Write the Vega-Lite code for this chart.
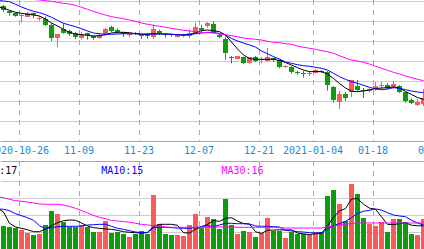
{
  "$schema": "https://vega.github.io/schema/vega-lite/v6.json",
  "width": 424,
  "height": 249,
  "autosize": "none",
  "padding": 0,
  "background": "white",
  "config": {"view": {"stroke": null}, "scale": {"continuousPadding": 0}},
  "datasets": {
    "k": [
      {"i":-1,"ma5":4.671,"ma10":4.7025,"ma30":4.726,"vma5":2.412,"vma10":2.353,"vma30":3.059},
      {"i":0,"open":4.675,"high":4.68,"low":4.645,"close":4.655,"vol":1.353,"ma5":4.665,"ma10":4.7,"ma30":4.723,"vma5":2.176,"vma10":2.335,"vma30":3.018},
      {"i":1,"open":4.65,"high":4.6525,"low":4.6275,"close":4.64,"vol":1.294,"ma5":4.6535,"ma10":4.6965,"ma30":4.72,"vma5":1.512,"vma10":2.253,"vma30":2.924},
      {"i":2,"open":4.64,"high":4.6425,"low":4.6215,"close":4.625,"vol":1.235,"ma5":4.6435,"ma10":4.6835,"ma30":4.717,"vma5":1.294,"vma10":2.076,"vma30":2.841},
      {"i":3,"open":4.625,"high":4.6385,"low":4.5915,"close":4.63,"vol":1.118,"ma5":4.6385,"ma10":4.67,"ma30":4.714,"vma5":1.218,"vma10":1.959,"vma30":2.806},
      {"i":4,"open":4.62,"high":4.6465,"low":4.62,"close":4.64,"vol":0.941,"ma5":4.6335,"ma10":4.6585,"ma30":4.711,"vma5":1.135,"vma10":1.841,"vma30":2.765},
      {"i":5,"open":4.64,"high":4.6425,"low":4.6135,"close":4.63,"vol":0.824,"ma5":4.63,"ma10":4.6485,"ma30":4.708,"vma5":1.018,"vma10":1.688,"vma30":2.706},
      {"i":6,"open":4.61,"high":4.625,"low":4.6015,"close":4.615,"vol":0.882,"ma5":4.625,"ma10":4.6415,"ma30":4.705,"vma5":1.018,"vma10":1.371,"vma30":2.647},
      {"i":7,"open":4.61,"high":4.6215,"low":4.575,"close":4.58,"vol":1.412,"ma5":4.61,"ma10":4.6315,"ma30":4.7015,"vma5":1.176,"vma10":1.194,"vma30":2.635},
      {"i":8,"open":4.58,"high":4.5885,"low":4.5,"close":4.515,"vol":2.235,"ma5":4.59,"ma10":4.6185,"ma30":4.6985,"vma5":1.371,"vma10":1.253,"vma30":2.629},
      {"i":9,"open":4.515,"high":4.535,"low":4.47,"close":4.535,"vol":2.059,"ma5":4.575,"ma10":4.6035,"ma30":4.6935,"vma5":1.547,"vma10":1.312,"vma30":2.629},
      {"i":10,"open":4.56,"high":4.5885,"low":4.5365,"close":4.54,"vol":1.588,"ma5":4.5585,"ma10":4.5885,"ma30":4.6885,"vma5":1.665,"vma10":1.335,"vma30":2.588},
      {"i":11,"open":4.55,"high":4.5565,"low":4.525,"close":4.535,"vol":1.294,"ma5":4.5435,"ma10":4.58,"ma30":4.685,"vma5":1.706,"vma10":1.335,"vma30":2.5},
      {"i":12,"open":4.54,"high":4.5435,"low":4.5085,"close":4.52,"vol":1.294,"ma5":4.535,"ma10":4.5715,"ma30":4.6785,"vma5":1.688,"vma10":1.335,"vma30":2.394},
      {"i":13,"open":4.515,"high":4.545,"low":4.5085,"close":4.535,"vol":1.412,"ma5":4.5315,"ma10":4.5615,"ma30":4.6685,"vma5":1.529,"vma10":1.353,"vma30":2.265},
      {"i":14,"open":4.54,"high":4.5415,"low":4.5065,"close":4.53,"vol":1.294,"ma5":4.5285,"ma10":4.55,"ma30":4.6585,"vma5":1.353,"vma10":1.412,"vma30":2.118},
      {"i":15,"open":4.525,"high":4.5275,"low":4.5065,"close":4.515,"vol":1.0,"ma5":4.525,"ma10":4.54,"ma30":4.6485,"vma5":1.253,"vma10":1.429,"vma30":1.971},
      {"i":16,"open":4.515,"high":4.5385,"low":4.51,"close":4.53,"vol":1.0,"ma5":4.5265,"ma10":4.5365,"ma30":4.6385,"vma5":1.218,"vma10":1.453,"vma30":1.865},
      {"i":17,"open":4.535,"high":4.5665,"low":4.5265,"close":4.56,"vol":1.647,"ma5":4.5315,"ma10":4.5335,"ma30":4.63,"vma5":1.176,"vma10":1.453,"vma30":1.782},
      {"i":18,"open":4.57,"high":4.5765,"low":4.5435,"close":4.55,"vol":0.941,"ma5":4.54,"ma10":4.5335,"ma30":4.6215,"vma5":1.159,"vma10":1.335,"vma30":1.676},
      {"i":19,"open":4.555,"high":4.5635,"low":4.5365,"close":4.545,"vol":1.0,"ma5":4.5435,"ma10":4.535,"ma30":4.6165,"vma5":1.1,"vma10":1.218,"vma30":1.647},
      {"i":20,"open":4.545,"high":4.545,"low":4.52,"close":4.535,"vol":0.882,"ma5":4.5435,"ma10":4.5365,"ma30":4.6115,"vma5":1.018,"vma10":1.159,"vma30":1.618},
      {"i":21,"open":4.53,"high":4.5385,"low":4.52,"close":4.535,"vol":0.706,"ma5":4.5415,"ma10":4.5365,"ma30":4.605,"vma5":0.982,"vma10":1.076,"vma30":1.571},
      {"i":22,"open":4.54,"high":4.545,"low":4.53,"close":4.535,"vol":0.882,"ma5":4.5365,"ma10":4.5365,"ma30":4.5985,"vma5":0.959,"vma10":1.0,"vma30":1.512},
      {"i":23,"open":4.53,"high":4.5315,"low":4.51,"close":4.525,"vol":1.059,"ma5":4.5335,"ma10":4.535,"ma30":4.59,"vma5":0.941,"vma10":0.959,"vma30":1.453},
      {"i":24,"open":4.535,"high":4.5385,"low":4.5115,"close":4.525,"vol":0.882,"ma5":4.5335,"ma10":4.535,"ma30":4.5835,"vma5":0.982,"vma10":0.959,"vma30":1.412},
      {"i":25,"open":4.52,"high":4.5815,"low":4.51,"close":4.56,"vol":3.176,"ma5":4.5365,"ma10":4.535,"ma30":4.5785,"vma5":1.312,"vma10":1.253,"vma30":1.371},
      {"i":26,"open":4.55,"high":4.5565,"low":4.53,"close":4.54,"vol":1.471,"ma5":4.5365,"ma10":4.535,"ma30":4.5735,"vma5":1.453,"vma10":1.276,"vma30":1.335},
      {"i":27,"open":4.535,"high":4.5365,"low":4.5165,"close":4.53,"vol":0.882,"ma5":4.535,"ma10":4.535,"ma30":4.5685,"vma5":1.453,"vma10":1.276,"vma30":1.294},
      {"i":28,"open":4.535,"high":4.5365,"low":4.5215,"close":4.53,"vol":0.824,"ma5":4.5335,"ma10":4.5335,"ma30":4.5635,"vma5":1.453,"vma10":1.253,"vma30":1.276},
      {"i":29,"open":4.52,"high":4.535,"low":4.5165,"close":4.53,"vol":0.824,"ma5":4.5315,"ma10":4.5315,"ma30":4.5585,"vma5":1.394,"vma10":1.235,"vma30":1.276},
      {"i":30,"open":4.525,"high":4.5365,"low":4.5185,"close":4.53,"vol":0.765,"ma5":4.53,"ma10":4.53,"ma30":4.5535,"vma5":0.959,"vma10":1.218,"vma30":1.276},
      {"i":31,"open":4.525,"high":4.5585,"low":4.515,"close":4.54,"vol":1.412,"ma5":4.5315,"ma10":4.5315,"ma30":4.55,"vma5":0.941,"vma10":1.218,"vma30":1.276},
      {"i":32,"open":4.54,"high":4.5915,"low":4.5335,"close":4.57,"vol":2.059,"ma5":4.5415,"ma10":4.5365,"ma30":4.5465,"vma5":1.159,"vma10":1.253,"vma30":1.276},
      {"i":33,"open":4.565,"high":4.58,"low":4.5465,"close":4.555,"vol":1.235,"ma5":4.5515,"ma10":4.54,"ma30":4.5435,"vma5":1.312,"vma10":1.312,"vma30":1.276},
      {"i":34,"open":4.575,"high":4.595,"low":4.5665,"close":4.59,"vol":1.882,"ma5":4.555,"ma10":4.5435,"ma30":4.5415,"vma5":1.453,"vma10":1.371,"vma30":1.294},
      {"i":35,"open":4.585,"high":4.5985,"low":4.5385,"close":4.545,"vol":1.765,"ma5":4.5515,"ma10":4.5425,"ma30":4.54,"vma5":1.671,"vma10":1.312,"vma30":1.294},
      {"i":36,"open":4.53,"high":4.5385,"low":4.5135,"close":4.52,"vol":1.176,"ma5":4.5465,"ma10":4.5375,"ma30":4.535,"vma5":1.624,"vma10":1.412,"vma30":1.294},
      {"i":37,"open":4.51,"high":4.5215,"low":4.405,"close":4.44,"vol":2.941,"ma5":4.53,"ma10":4.53,"ma30":4.5315,"vma5":1.806,"vma10":1.512,"vma30":1.294},
      {"i":38,"open":4.42,"high":4.425,"low":4.3885,"close":4.415,"vol":1.412,"ma5":4.495,"ma10":4.5125,"ma30":4.5265,"vma5":1.841,"vma10":1.512,"vma30":1.294},
      {"i":39,"open":4.41,"high":4.425,"low":4.4085,"close":4.425,"vol":0.882,"ma5":4.46,"ma10":4.5,"ma30":4.5215,"vma5":1.641,"vma10":1.488,"vma30":1.276},
      {"i":40,"open":4.42,"high":4.4215,"low":4.385,"close":4.39,"vol":1.059,"ma5":4.43,"ma10":4.49,"ma30":4.515,"vma5":1.5,"vma10":1.488,"vma30":1.276},
      {"i":41,"open":4.39,"high":4.42,"low":4.3835,"close":4.42,"vol":1.0,"ma5":4.4125,"ma10":4.48,"ma30":4.5115,"vma5":1.465,"vma10":1.471,"vma30":1.276},
      {"i":42,"open":4.42,"high":4.425,"low":4.395,"close":4.4,"vol":0.706,"ma5":4.4085,"ma10":4.47,"ma30":4.5085,"vma5":1.012,"vma10":1.353,"vma30":1.276},
      {"i":43,"open":4.405,"high":4.4185,"low":4.3885,"close":4.41,"vol":0.941,"ma5":4.4085,"ma10":4.45,"ma30":4.505,"vma5":0.918,"vma10":1.335,"vma30":1.276},
      {"i":44,"open":4.4,"high":4.465,"low":4.3965,"close":4.42,"vol":1.824,"ma5":4.4085,"ma10":4.4365,"ma30":4.4985,"vma5":1.106,"vma10":1.335,"vma30":1.276},
      {"i":45,"open":4.415,"high":4.4165,"low":4.395,"close":4.405,"vol":1.059,"ma5":4.4085,"ma10":4.4215,"ma30":4.4935,"vma5":1.112,"vma10":1.312,"vma30":1.276},
      {"i":46,"open":4.405,"high":4.4085,"low":4.365,"close":4.37,"vol":1.059,"ma5":4.4025,"ma10":4.41,"ma30":4.4915,"vma5":1.129,"vma10":1.294,"vma30":1.253},
      {"i":47,"open":4.37,"high":4.3785,"low":4.365,"close":4.375,"vol":0.647,"ma5":4.3925,"ma10":4.395,"ma30":4.4865,"vma5":1.118,"vma10":1.1,"vma30":1.235},
      {"i":48,"open":4.37,"high":4.375,"low":4.3365,"close":4.345,"vol":1.0,"ma5":4.38,"ma10":4.3885,"ma30":4.4835,"vma5":1.129,"vma10":1.059,"vma30":1.235},
      {"i":49,"open":4.345,"high":4.3515,"low":4.3315,"close":4.34,"vol":0.882,"ma5":4.3665,"ma10":4.3815,"ma30":4.475,"vma5":0.935,"vma10":1.018,"vma30":1.235},
      {"i":50,"open":4.34,"high":4.3515,"low":4.3165,"close":4.335,"vol":0.882,"ma5":4.355,"ma10":4.3765,"ma30":4.4685,"vma5":0.894,"vma10":1.0,"vma30":1.235},
      {"i":51,"open":4.335,"high":4.35,"low":4.3235,"close":4.34,"vol":0.824,"ma5":4.3465,"ma10":4.3735,"ma30":4.4635,"vma5":0.841,"vma10":0.959,"vma30":1.235},
      {"i":52,"open":4.34,"high":4.3615,"low":4.3365,"close":4.355,"vol":1.0,"ma5":4.3475,"ma10":4.3685,"ma30":4.4585,"vma5":0.906,"vma10":0.941,"vma30":1.235},
      {"i":53,"open":4.35,"high":4.355,"low":4.34,"close":4.345,"vol":1.0,"ma5":4.3465,"ma10":4.3635,"ma30":4.4515,"vma5":0.906,"vma10":0.959,"vma30":1.235},
      {"i":54,"open":4.345,"high":4.35,"low":4.2515,"close":4.28,"vol":3.118,"ma5":4.335,"ma10":4.355,"ma30":4.4465,"vma5":1.359,"vma10":1.176,"vma30":1.294},
      {"i":55,"open":4.27,"high":4.275,"low":4.1915,"close":4.205,"vol":3.471,"ma5":4.3125,"ma10":4.3385,"ma30":4.4385,"vma5":1.876,"vma10":1.371,"vma30":1.353},
      {"i":56,"open":4.195,"high":4.25,"low":4.16,"close":4.235,"vol":2.647,"ma5":4.2875,"ma10":4.3215,"ma30":4.4265,"vma5":2.241,"vma10":1.488,"vma30":1.412},
      {"i":57,"open":4.235,"high":4.245,"low":4.2,"close":4.215,"vol":1.647,"ma5":4.265,"ma10":4.3085,"ma30":4.415,"vma5":2.376,"vma10":1.629,"vma30":1.453},
      {"i":58,"open":4.245,"high":4.305,"low":4.22,"close":4.305,"vol":3.824,"ma5":4.2485,"ma10":4.2965,"ma30":4.405,"vma5":2.941,"vma10":1.841,"vma30":1.5},
      {"i":59,"open":4.275,"high":4.305,"low":4.2465,"close":4.255,"vol":3.235,"ma5":4.2465,"ma10":4.2885,"ma30":4.4,"vma5":2.965,"vma10":2.1,"vma30":1.529},
      {"i":60,"open":4.255,"high":4.265,"low":4.215,"close":4.25,"vol":1.824,"ma5":4.25,"ma10":4.2785,"ma30":4.3935,"vma5":2.635,"vma10":2.218,"vma30":1.529},
      {"i":61,"open":4.25,"high":4.265,"low":4.2435,"close":4.26,"vol":1.471,"ma5":4.255,"ma10":4.2685,"ma30":4.385,"vma5":2.4,"vma10":2.276,"vma30":1.529},
      {"i":62,"open":4.26,"high":4.295,"low":4.2515,"close":4.275,"vol":1.353,"ma5":4.2625,"ma10":4.26,"ma30":4.3735,"vma5":2.341,"vma10":2.353,"vma30":1.529},
      {"i":63,"open":4.275,"high":4.295,"low":4.26,"close":4.28,"vol":1.588,"ma5":4.265,"ma10":4.2565,"ma30":4.3635,"vma5":1.894,"vma10":2.294,"vma30":1.529},
      {"i":64,"open":4.28,"high":4.29,"low":4.2585,"close":4.265,"vol":1.0,"ma5":4.2665,"ma10":4.26,"ma30":4.3535,"vma5":1.447,"vma10":2.135,"vma30":1.529},
      {"i":65,"open":4.27,"high":4.3,"low":4.2635,"close":4.285,"vol":1.765,"ma5":4.27,"ma10":4.2665,"ma30":4.3435,"vma5":1.435,"vma10":2.0,"vma30":1.529},
      {"i":66,"open":4.275,"high":4.28,"low":4.24,"close":4.245,"vol":1.765,"ma5":4.265,"ma10":4.2635,"ma30":4.335,"vma5":1.494,"vma10":1.941,"vma30":1.529},
      {"i":67,"open":4.245,"high":4.2465,"low":4.1915,"close":4.2,"vol":1.588,"ma5":4.2475,"ma10":4.2565,"ma30":4.325,"vma5":1.541,"vma10":1.9,"vma30":1.529},
      {"i":68,"open":4.205,"high":4.2135,"low":4.185,"close":4.19,"vol":0.882,"ma5":4.2325,"ma10":4.25,"ma30":4.3165,"vma5":1.4,"vma10":1.688,"vma30":1.529},
      {"i":69,"open":4.18,"high":4.21,"low":4.175,"close":4.195,"vol":0.824,"ma5":4.2175,"ma10":4.245,"ma30":4.3085,"vma5":1.365,"vma10":1.529,"vma30":1.529},
      {"i":70,"open":4.185,"high":4.26,"low":4.175,"close":4.215,"vol":1.765,"ma5":4.2085,"ma10":4.2415,"ma30":4.3015,"vma5":1.365,"vma10":1.412,"vma30":1.529}
    ],
    "ticks": [
      {"i":3,"label":"2020-10-26"},
      {"i":13,"label":"11-09"},
      {"i":23,"label":"11-23"},
      {"i":33,"label":"12-07"},
      {"i":43,"label":"12-21"},
      {"i":52,"label":"2021-01-04"},
      {"i":62,"label":"01-18"},
      {"i":72,"label":"02-01"}
    ]
  },
  "layer": [
    {
      "data": {"name": "k"},
      "layer": [
        {
          "data": {"name": "ticks"},
          "mark": {"type": "rule", "xOffset": 0.5, "strokeWidth": 1, "strokeDash": [5, 5], "color": "#a8a8a8"},
          "encoding": {
            "x": {"field": "i", "type": "quantitative",
              "scale": {"domain": [-0.1666667, 70.5], "nice": false, "zero": false, "padding": 0},
              "axis": {"orient": "bottom", "offset": -108, "grid": false, "labels": false, "ticks": false, "tickSize": 0, "domain": true, "domainColor": "#a8a8a8", "domainWidth": 1, "title": null}},
            "y": {"datum": 4.705, "type": "quantitative",
              "scale": {"domain": [3.46, 4.705], "nice": false, "zero": false},
              "axis": {"orient": "left", "values": [4.1, 4.2, 4.3, 4.4, 4.5, 4.6, 4.7], "grid": true, "gridDash": [1, 1], "gridColor": "#999999", "labels": false, "ticks": false, "tickSize": 0, "domain": false, "title": null}},
            "y2": {"datum": 4.0}
          }
        },
        {
          "mark": {"type": "rule", "xOffset": 2.5, "strokeWidth": 1},
          "encoding": {
            "x": {"field": "i", "type": "quantitative", "scale": {"domain": [-0.1666667, 70.5], "nice": false, "zero": false, "padding": 0}},
            "y": {"field": "low", "type": "quantitative", "scale": {"domain": [3.46, 4.705], "nice": false, "zero": false}},
            "y2": {"field": "high"},
            "color": {"condition": {"test": "datum.close >= datum.open", "value": "#fa5a5a"}, "value": "#0c9c0c"}
          }
        },
        {
          "mark": {"type": "bar", "orient": "vertical", "xOffset": 2.5, "width": 5},
          "encoding": {
            "x": {"field": "i", "type": "quantitative", "scale": {"domain": [-0.1666667, 70.5], "nice": false, "zero": false, "padding": 0}},
            "y": {"field": "open", "type": "quantitative", "scale": {"domain": [3.46, 4.705], "nice": false, "zero": false}},
            "y2": {"field": "close"},
            "color": {"condition": {"test": "datum.close >= datum.open", "value": "#fa5a5a"}, "value": "#0c9c0c"}
          }
        },
        {
          "mark": {"type": "line", "xOffset": 2.5, "strokeWidth": 1, "color": "#000000"},
          "encoding": {
            "x": {"field": "i", "type": "quantitative", "scale": {"domain": [-0.1666667, 70.5], "nice": false, "zero": false, "padding": 0}},
            "y": {"field": "ma5", "type": "quantitative", "scale": {"domain": [3.46, 4.705], "nice": false, "zero": false}}
          }
        },
        {
          "mark": {"type": "line", "xOffset": 2.5, "strokeWidth": 1, "color": "#0000ff"},
          "encoding": {
            "x": {"field": "i", "type": "quantitative", "scale": {"domain": [-0.1666667, 70.5], "nice": false, "zero": false, "padding": 0}},
            "y": {"field": "ma10", "type": "quantitative", "scale": {"domain": [3.46, 4.705], "nice": false, "zero": false}}
          }
        },
        {
          "mark": {"type": "line", "xOffset": 2.5, "strokeWidth": 1, "color": "#ff00ff"},
          "encoding": {
            "x": {"field": "i", "type": "quantitative", "scale": {"domain": [-0.1666667, 70.5], "nice": false, "zero": false, "padding": 0}},
            "y": {"field": "ma30", "type": "quantitative", "scale": {"domain": [3.46, 4.705], "nice": false, "zero": false}}
          }
        },
        {
          "data": {"name": "ticks"},
          "mark": {"type": "text", "font": "DejaVu Sans Mono", "fontSize": 10, "align": "center", "baseline": "alphabetic", "color": "#1a8ad4"},
          "encoding": {
            "x": {"field": "i", "type": "quantitative", "scale": {"domain": [-0.1666667, 70.5], "nice": false, "zero": false, "padding": 0}},
            "y": {"datum": 3.9335, "type": "quantitative", "scale": {"domain": [3.46, 4.705], "nice": false, "zero": false}},
            "text": {"field": "label"}
          }
        }
      ]
    },
    {
      "data": {"name": "k"},
      "layer": [
        {
          "data": {"name": "ticks"},
          "mark": {"type": "rule", "xOffset": 0.5, "strokeWidth": 1, "strokeDash": [5, 5], "color": "#a8a8a8"},
          "encoding": {
            "x": {"field": "i", "type": "quantitative",
              "scale": {"domain": [-0.1666667, 70.5], "nice": false, "zero": false, "padding": 0},
              "axis": {"orient": "bottom", "offset": -88, "grid": false, "labels": false, "ticks": false, "tickSize": 0, "domain": true, "domainColor": "#a8a8a8", "domainWidth": 1, "title": null}},
            "y": {"datum": 5.176, "type": "quantitative",
              "scale": {"domain": [0, 14.647], "nice": false},
              "axis": {"orient": "right", "values": [1, 2, 3, 4], "grid": true, "gridDash": [1, 1], "gridColor": "#999999", "labels": false, "ticks": false, "tickSize": 0, "domain": false, "title": null}},
            "y2": {"datum": 0}
          }
        },
        {
          "mark": {"type": "bar", "orient": "vertical", "xOffset": 2.5, "width": 5},
          "encoding": {
            "x": {"field": "i", "type": "quantitative", "scale": {"domain": [-0.1666667, 70.5], "nice": false, "zero": false, "padding": 0}},
            "y": {"field": "vol", "type": "quantitative", "scale": {"domain": [0, 14.647], "nice": false}},
            "color": {"condition": {"test": "datum.close >= datum.open", "value": "#fa5a5a"}, "value": "#0c9c0c"}
          }
        },
        {
          "mark": {"type": "line", "xOffset": 2.5, "strokeWidth": 1, "color": "#000000"},
          "encoding": {
            "x": {"field": "i", "type": "quantitative", "scale": {"domain": [-0.1666667, 70.5], "nice": false, "zero": false, "padding": 0}},
            "y": {"field": "vma5", "type": "quantitative", "scale": {"domain": [0, 14.647], "nice": false}}
          }
        },
        {
          "mark": {"type": "line", "xOffset": 2.5, "strokeWidth": 1, "color": "#0000ff"},
          "encoding": {
            "x": {"field": "i", "type": "quantitative", "scale": {"domain": [-0.1666667, 70.5], "nice": false, "zero": false, "padding": 0}},
            "y": {"field": "vma10", "type": "quantitative", "scale": {"domain": [0, 14.647], "nice": false}}
          }
        },
        {
          "mark": {"type": "line", "xOffset": 2.5, "strokeWidth": 1, "color": "#ff00ff"},
          "encoding": {
            "x": {"field": "i", "type": "quantitative", "scale": {"domain": [-0.1666667, 70.5], "nice": false, "zero": false, "padding": 0}},
            "y": {"field": "vma30", "type": "quantitative", "scale": {"domain": [0, 14.647], "nice": false}}
          }
        },
        {
          "data": {"values": [{"label": "MA5:17"}]},
          "mark": {"type": "text", "font": "DejaVu Sans Mono", "fontSize": 10, "align": "left", "baseline": "alphabetic", "color": "#000000"},
          "encoding": {
            "x": {"datum": -3.3, "type": "quantitative", "scale": {"domain": [-0.1666667, 70.5], "nice": false, "zero": false, "padding": 0}},
            "y": {"datum": 4.429, "type": "quantitative", "scale": {"domain": [0, 14.647], "nice": false}},
            "text": {"field": "label"}
          }
        },
        {
          "data": {"values": [{"label": "MA10:15"}]},
          "mark": {"type": "text", "font": "DejaVu Sans Mono", "fontSize": 10, "align": "left", "baseline": "alphabetic", "color": "#0000ff"},
          "encoding": {
            "x": {"datum": 16.7, "type": "quantitative", "scale": {"domain": [-0.1666667, 70.5], "nice": false, "zero": false, "padding": 0}},
            "y": {"datum": 4.429, "type": "quantitative", "scale": {"domain": [0, 14.647], "nice": false}},
            "text": {"field": "label"}
          }
        },
        {
          "data": {"values": [{"label": "MA30:16"}]},
          "mark": {"type": "text", "font": "DejaVu Sans Mono", "fontSize": 10, "align": "left", "baseline": "alphabetic", "color": "#ff00ff"},
          "encoding": {
            "x": {"datum": 36.75, "type": "quantitative", "scale": {"domain": [-0.1666667, 70.5], "nice": false, "zero": false, "padding": 0}},
            "y": {"datum": 4.429, "type": "quantitative", "scale": {"domain": [0, 14.647], "nice": false}},
            "text": {"field": "label"}
          }
        }
      ]
    }
  ],
  "resolve": {"scale": {"y": "independent"}, "axis": {"x": "independent", "y": "independent"}}
}
